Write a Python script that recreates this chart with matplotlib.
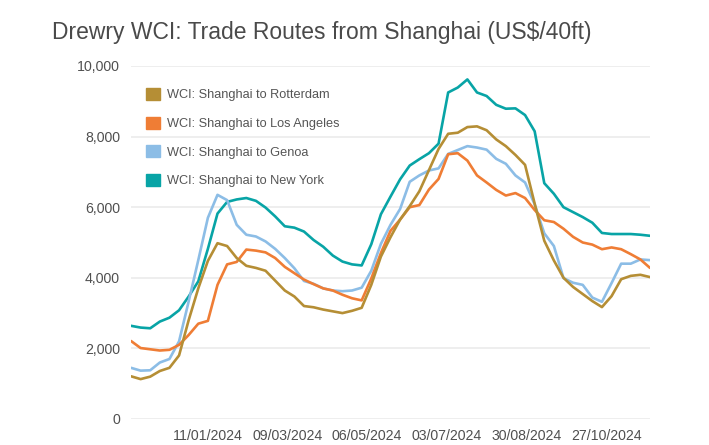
import matplotlib
matplotlib.use("Agg")
import matplotlib.pyplot as plt
import matplotlib.dates as mdates
import numpy as np
import pandas as pd

# weekly Drewry WCI readings, 16/11/2023 .. 28/11/2024 (US$/40ft)
dates = pd.date_range("2023-11-16", "2024-11-28", freq="7D")

rotterdam = [1210, 1130, 1200, 1360, 1450, 1800, 2800, 3700, 4480, 4980,
             4900, 4560, 4340, 4280, 4200, 3920, 3640, 3470, 3200, 3165,
             3100, 3050, 3000, 3065, 3150, 3800, 4600, 5150, 5650, 6030,
             6450, 7050, 7650, 8080, 8110, 8270, 8290, 8180, 7920, 7730,
             7480, 7200, 6100, 5050, 4490, 4000, 3740, 3540, 3340, 3170,
             3480, 3960, 4055, 4085, 4020]
los_angeles = [2210, 2010, 1975, 1940, 1960, 2100, 2380, 2700, 2780, 3800,
               4380, 4450, 4800, 4770, 4720, 4560, 4310, 4130, 3950, 3820,
               3700, 3640, 3520, 3420, 3360, 3980, 4700, 5330, 5650, 6000,
               6060, 6500, 6800, 7500, 7530, 7320, 6900, 6700, 6490, 6330,
               6400, 6260, 5920, 5630, 5580, 5390, 5160, 5000, 4940, 4810,
               4860, 4810, 4670, 4520, 4280]
genoa = [1450, 1370, 1380, 1600, 1700, 2200, 3330, 4500, 5700, 6350,
         6200, 5500, 5220, 5170, 5030, 4820, 4560, 4270, 3910, 3830,
         3700, 3640, 3620, 3640, 3720, 4200, 4960, 5500, 5950, 6720,
         6900, 7040, 7100, 7510, 7620, 7730, 7690, 7630, 7370, 7230,
         6900, 6700, 6080, 5260, 4900, 3990, 3860, 3800, 3440, 3320,
         3850, 4400, 4400, 4520, 4500]
new_york = [2640, 2590, 2570, 2760, 2870, 3080, 3470, 3900, 4820, 5820,
            6150, 6220, 6260, 6180, 5990, 5740, 5460, 5420, 5310, 5070,
            4880, 4630, 4460, 4380, 4350, 4950, 5800, 6300, 6790, 7180,
            7360, 7530, 7800, 9250, 9390, 9620, 9250, 9150, 8900, 8790,
            8800, 8610, 8150, 6680, 6380, 6000, 5860, 5720, 5560, 5270,
            5240, 5240, 5240, 5220, 5190]

series = [
    ("WCI: Shanghai to Rotterdam", rotterdam, "#b58e35"),
    ("WCI: Shanghai to Los Angeles", los_angeles, "#ef7d35"),
    ("WCI: Shanghai to Genoa", genoa, "#8cbde6"),
    ("WCI: Shanghai to New York", new_york, "#08a4a6"),
]

tick_dates = pd.to_datetime(["2024-01-11", "2024-03-09", "2024-05-06",
                             "2024-07-03", "2024-08-30", "2024-10-27"])

plt.rcParams["font.family"] = ["Liberation Sans", "DejaVu Sans"]

fig = plt.figure(figsize=(7.09, 4.45), dpi=100)
ax = fig.add_axes([131 / 709, 26 / 445, 519 / 709, 353 / 445])

# draw in reverse so rotterdam sits on top like the original
for name, vals, col in series[::-1]:
    ax.plot(dates, vals, color=col, lw=1.9, solid_joinstyle="round",
            solid_capstyle="round", label=name)

ax.set_xlim(dates[0], dates[-1])
ax.set_ylim(0, 10000)
ax.set_yticks(range(0, 10001, 2000))
ax.set_yticklabels([f"{v:,}" for v in range(0, 10001, 2000)])
ax.set_xticks(tick_dates)
ax.xaxis.set_major_formatter(mdates.DateFormatter("%d/%m/%Y"))

ax.grid(axis="y", color="#ebebeb", lw=1.2)
ax.set_axisbelow(True)
for s in ax.spines.values():
    s.set_visible(False)
ax.tick_params(length=0, labelsize=10.2, labelcolor="#505050")
ax.tick_params(axis="y", pad=8)
ax.tick_params(axis="x", pad=7)

# legend with square markers
handles = [plt.Rectangle((0, 0), 1, 1, color=c) for _, _, c in series]
labels = [n for n, _, _ in series]
leg = ax.legend(handles, labels, loc="upper left", bbox_to_anchor=(0.007, 0.97),
                frameon=False, fontsize=9.2, labelcolor="#555555",
                handlelength=1.05, handleheight=1.05, handletextpad=0.55,
                labelspacing=1.2)

fig.text(52 / 709, 1 - 33 / 445, "Drewry WCI: Trade Routes from Shanghai (US$/40ft)",
         fontsize=16.5, color="#4a4a4a", va="center", ha="left")

fig.savefig("out.png", dpi=100)
